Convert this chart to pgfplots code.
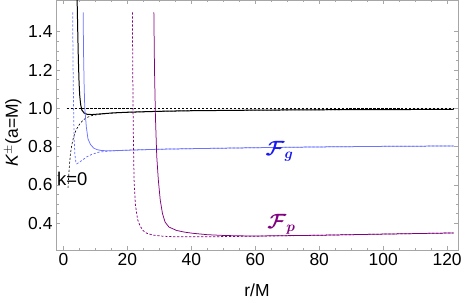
\documentclass[border=0pt]{standalone}
\usepackage{pgfplots}
\pgfplotsset{compat=1.18}
\usepackage{fontspec}
\usepackage{amsmath}
\usepackage{bm}
\setmainfont{Liberation Sans}
\definecolor{lblue}{rgb}{0.42,0.45,1}
\definecolor{tblue}{rgb}{0.1,0.1,0.95}
\definecolor{mpurple}{rgb}{0.5,0,0.5}
\definecolor{fgray}{gray}{0.65}
\begin{document}
\begin{tikzpicture}
\path[use as bounding box] (-56bp,-52bp) rectangle (407bp,250bp);
\begin{axis}[
  at={(0,0)}, anchor=south west,
  scale only axis, width=402bp, height=250bp,
  xmin=-2.3, xmax=123.4, ymin=0.26, ymax=1.565,
  axis line style={fgray},
  every tick/.style={fgray},
  xtick={0,20,40,60,80,100,120},
  ytick={0.4,0.6,0.8,1.0,1.2,1.4},
  minor x tick num=3, minor y tick num=3,
  major tick length=4bp, minor tick length=2.5bp,
  tick align=inside,
  font=\fontsize{17.5}{20}\selectfont,
  /pgf/number format/assume math mode=true,
  yticklabel style={/pgf/number format/fixed,/pgf/number format/fixed zerofill,/pgf/number format/precision=1},
  xlabel={r/M},
  ylabel={\textit{K}$^{\pm}$(a=M)},
  xlabel style={at={(axis description cs:0.5,-0.16)}, anchor=center},
  ylabel style={at={(axis description cs:-0.107,0.47)}, anchor=center, rotate=0},
  clip=true,
]
% black dashed horizontal
\addplot[black, line width=0.6pt, dash pattern=on 2.2pt off 1.8pt] coordinates {(1.0,1.0) (122,1.0)};
% black dashed rising (k=0)
\addplot[black, line width=0.6pt, dash pattern=on 2.2pt off 1.8pt] coordinates {
(1.45,0.585) (1.8,0.68) (2.2,0.76) (2.6,0.805) (3.2,0.85) (4,0.887) (5,0.915) (6,0.935) (7.1,0.95) (9,0.962) (11.2,0.968) (15,0.975) (20,0.979) (30,0.984) (40,0.987) (60,0.99) (80,0.992) (100,0.993) (122,0.994)};
% black solid
\addplot[black, line width=1pt] coordinates {
(4.3,1.57) (4.5,1.40) (4.7,1.25) (4.9,1.14) (5.1,1.07) (5.4,1.02) (5.8,0.99) (6.5,0.975) (7.5,0.968) (9,0.967) (12,0.971) (16,0.976) (20,0.979) (30,0.984) (40,0.987) (60,0.99) (80,0.992) (100,0.993) (122,0.994)};
% blue solid
\addplot[lblue, line width=0.75pt] coordinates {
(6.2,1.5) (6.3,1.3) (6.5,1.12) (6.7,1.0) (7.2,0.9) (7.7,0.84) (8.5,0.81) (9.5,0.792) (10.5,0.784) (12,0.779) (15,0.778) (20,0.781) (30,0.786) (40,0.789) (60,0.794) (80,0.798) (100,0.801) (122,0.803)};
% blue dashed
\addplot[lblue, line width=0.75pt, dash pattern=on 2.2pt off 1.8pt] coordinates {
(2.9,1.5) (3.05,1.2) (3.2,1.0) (3.35,0.85) (3.6,0.76) (3.9,0.72) (4.2,0.71) (5,0.718) (6,0.73) (7.3,0.746) (9,0.76) (11.4,0.772) (15,0.777) (20,0.781) (30,0.786) (40,0.789) (60,0.794) (80,0.798) (100,0.801) (122,0.803)};
% purple dashed
\addplot[mpurple, line width=0.75pt, dash pattern=on 2.2pt off 1.8pt] coordinates {
(21.6,1.5) (21.7,1.2) (21.85,0.9) (22.1,0.63) (22.5,0.5) (23.2,0.42) (24,0.385) (24.9,0.362) (26,0.348) (28,0.338) (31,0.332) (35,0.329) (45,0.329) (60,0.332) (80,0.337) (100,0.343) (122,0.349)};
% purple solid
\addplot[mpurple, line width=0.75pt] coordinates {
(28.3,1.5) (28.5,1.2) (28.8,0.95) (29.2,0.75) (29.7,0.625) (30.3,0.52) (31,0.45) (31.8,0.406) (33,0.38) (35.4,0.362) (38,0.353) (40.6,0.347) (45,0.340) (50,0.336) (55,0.334) (60,0.333) (80,0.337) (100,0.343) (122,0.349)};
\node[black, font=\fontsize{18.5}{20}\selectfont] at (axis cs:2.8,0.633) {k=0};
\node[tblue, font=\fontsize{21}{24}\selectfont] at (axis cs:67.6,0.775) {$\bm{\mathcal{F}_{g}}$};
\node[mpurple, font=\fontsize{21}{24}\selectfont] at (axis cs:68.2,0.394) {$\bm{\mathcal{F}_{p}}$};
\end{axis}
\end{tikzpicture}
\end{document}
